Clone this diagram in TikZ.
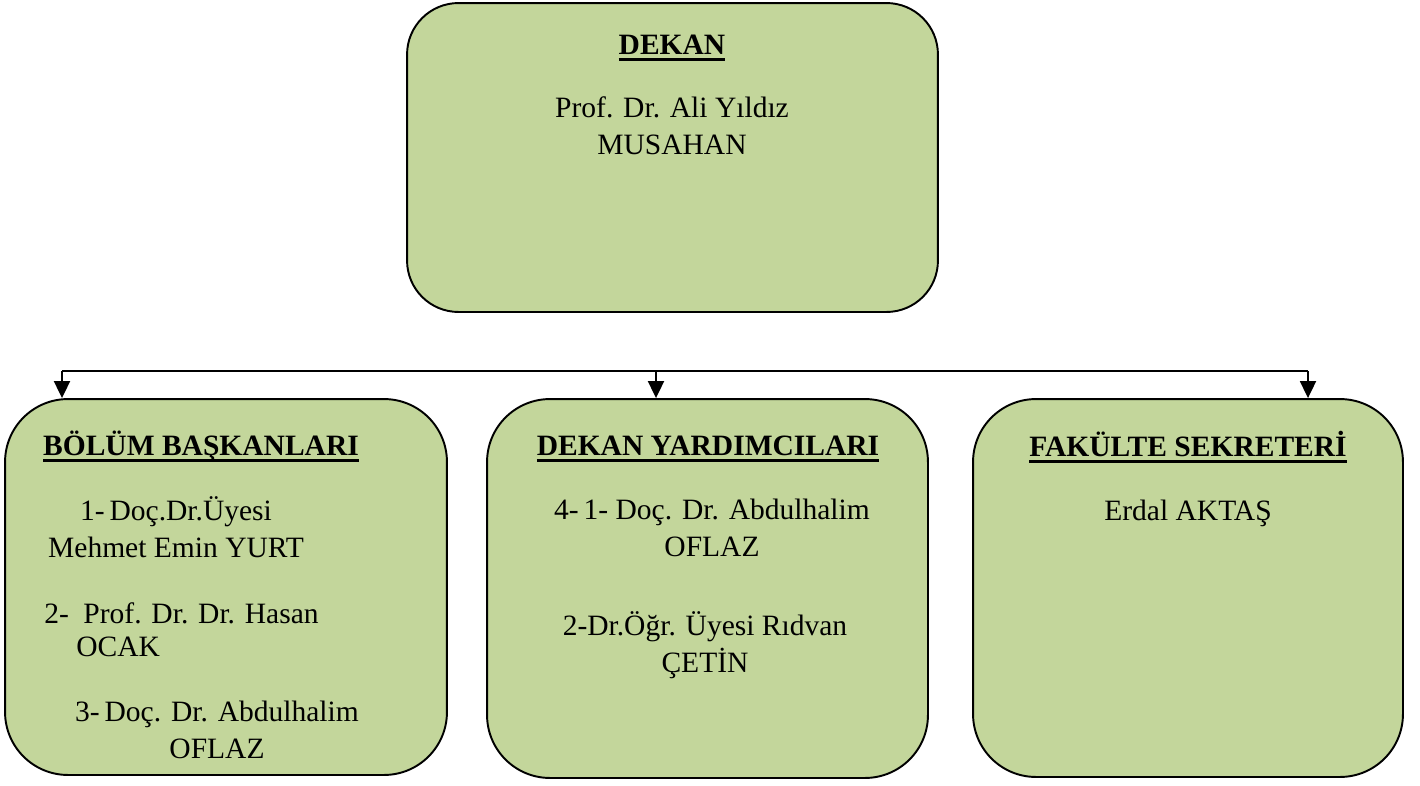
\documentclass[tikz,border=0pt]{standalone}
\usepackage{fontspec}
\setmainfont{Liberation Serif}
\usepackage{tikz}
\usetikzlibrary{arrows.meta, positioning, calc}
\definecolor{boxgreen}{HTML}{C3D69B}
\newsavebox{\ulsave}
\newcommand{\thickul}[1]{\sbox{\ulsave}{#1}\rlap{\rule[-3.9pt]{\wd\ulsave}{1.4pt}}\usebox{\ulsave}}

\begin{document}
\begin{tikzpicture}[x=0.02cm, y=-0.02cm,
      unitbox/.style={draw=black, fill=boxgreen, line width=1.1pt,
      rounded corners=1.26cm, inner sep=0pt, minimum width=8.82cm, minimum
      height=7.56cm}, headbox/.style={unitbox, rounded corners=1.03cm,
      minimum width=10.62cm, minimum height=6.18cm},
      headtext/.style={font=\fontsize{16.8pt}{20.5pt}\selectfont\bfseries,
      anchor=base, inner sep=0pt},
      member/.style={font=\fontsize{16.8pt}{20.5pt}\selectfont, anchor=base,
      align=center, inner sep=0pt},
      busline/.style={line width=1.1pt, black},
      dropline/.style={busline, -{Triangle[width=0.32cm, length=0.34cm]}} ]
    \useasboundingbox (0,0) rectangle (1420,785);

    % Boxes
    \node[headbox] (dekan) at (672.5,157.5) {}; \node[unitbox, minimum
    width=8.84cm, minimum height=7.52cm] (bolum) at (226,587) {};
    \node[unitbox, minimum height=7.58cm] (yard) at (707.5,588.5) {};
    \node[unitbox, minimum width=8.6cm] (sekr) at (1188,588) {};

    % Headings
    \node[headtext] (dekanhead) at (672,54) {\thickul{DEKAN}};
    \node[headtext] (bolumhead) at (201,455) {\thickul{BÖLÜM BAŞKANLARI}};
    \node[headtext] (yardhead) at (708,455) {\thickul{DEKAN YARDIMCILARI}};
    \node[headtext] (sekrhead) at (1188,456) {\thickul{FAKÜLTE SEKRETERİ}};

    % Names (base = last line)
    \node[member] (dekanname) at (672,154) {Prof. Dr. Ali Yıldız\\MUSAHAN};
    \node[member] (bolum1) at (176,557) {1-\,Doç.Dr.Üyesi\\Mehmet Emin
    YURT}; \node[member, anchor=base west] (bolum2) at (44,623)
    {2-\hspace{0.29cm}Prof. Dr. Dr. Hasan}; \node[member, anchor=base
    west] (bolum2b) at (76,656) {OCAK}; \node[member] (bolum3) at (217,758)
    {3-\,Doç. Dr. Abdulhalim\\OFLAZ};
    \node[member] (yard1) at (712,556) {4-\,1- Doç. Dr. Abdulhalim\\OFLAZ};
    \node[member] (yard2) at (705,672) {2-Dr.Öğr. Üyesi Rıdvan\\ÇETİN};
    \node[member] (sekrname) at (1188,520) {Erdal AKTAŞ};

    % Connector with arrows
    \coordinate (busL) at (62,371); \coordinate (busM) at (656,371);
    \coordinate (busR) at (1308,371);
    \draw[busline] (busL) -- (busR);
    \draw[dropline] (busL) -- (busL |- bolum.north);
    \draw[dropline] (busM) -- (busM |- yard.north);
    \draw[dropline] (busR) -- (busR |- sekr.north);

  \end{tikzpicture}
\end{document}
